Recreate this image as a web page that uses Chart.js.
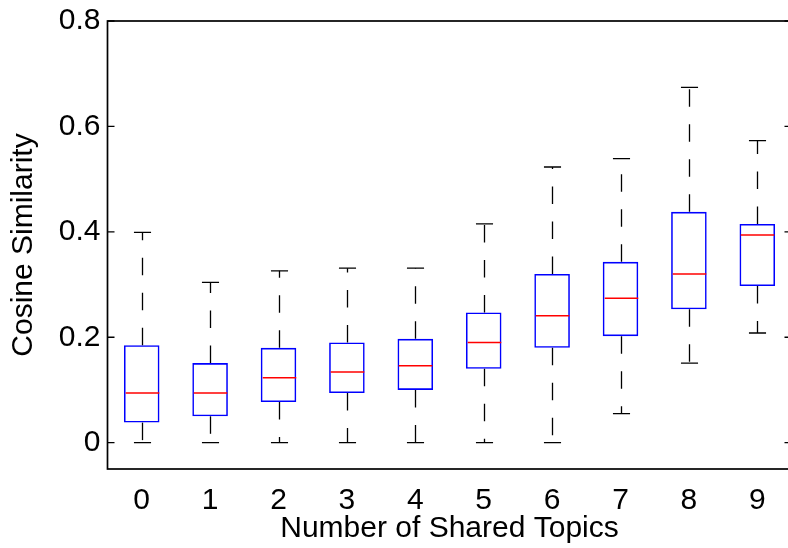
<!DOCTYPE html>
<html>
<head>
<meta charset="utf-8">
<script src="https://cdn.jsdelivr.net/npm/chart.js@4"></script>
<style>
  html, body { margin: 0; padding: 0; overflow: hidden; background: #fff; width: 788px; height: 548px; }
  #wrap { width: 796px; height: 548px; }
</style>
</head>
<body>
<div id="wrap"><canvas id="c" width="796" height="548"></canvas></div>
<script>
// Cosine similarity distribution per number of shared topics
const topics       = ['0', '1', '2', '3', '4', '5', '6', '7', '8', '9'];
const lowerWhisker = [0.000, 0.000, 0.000, 0.000, 0.000, 0.000, 0.000, 0.055, 0.151, 0.208];
const quartile1    = [0.038, 0.050, 0.077, 0.094, 0.100, 0.140, 0.180, 0.202, 0.253, 0.297];
const medians      = [0.094, 0.094, 0.123, 0.134, 0.146, 0.190, 0.241, 0.274, 0.320, 0.394];
const quartile3    = [0.185, 0.151, 0.180, 0.190, 0.197, 0.247, 0.320, 0.343, 0.438, 0.415];
const upperWhisker = [0.399, 0.304, 0.326, 0.331, 0.331, 0.415, 0.523, 0.539, 0.674, 0.573];
const yTicks       = [0, 0.2, 0.4, 0.6, 0.8];
const yTickLabels  = ['0', '0.2', '0.4', '0.6', '0.8'];

const FONT = "'Liberation Sans', Arial, Helvetica, sans-serif";

// Whiskers, caps, medians, the axes box and inward tick marks
const boxDecor = {
  id: 'boxDecor',
  afterDatasetsDraw(chart) {
    const { ctx, chartArea: a, scales: { x, y } } = chart;
    const meta = chart.getDatasetMeta(0);
    const step = (a.right - a.left) / topics.length;
    const capHalf = step * 0.125;
    ctx.save();
    meta.data.forEach((bar, i) => {
      const cx = Math.round(x.getPixelForValue(i)) + 0.5;
      const half = bar.width / 2;
      const yLo = y.getPixelForValue(lowerWhisker[i]);
      const yQ1 = y.getPixelForValue(quartile1[i]);
      const yMed = y.getPixelForValue(medians[i]);
      const yQ3 = y.getPixelForValue(quartile3[i]);
      const yHi = y.getPixelForValue(upperWhisker[i]);

      ctx.strokeStyle = '#000';
      ctx.lineWidth = 1.3;
      ctx.setLineDash([17.5, 17.5]);
      ctx.beginPath(); ctx.moveTo(cx, yQ3); ctx.lineTo(cx, yHi); ctx.stroke();
      ctx.beginPath(); ctx.moveTo(cx, yQ1); ctx.lineTo(cx, yLo); ctx.stroke();
      ctx.setLineDash([]);

      ctx.beginPath();
      ctx.moveTo(cx - capHalf, yHi); ctx.lineTo(cx + capHalf, yHi);
      ctx.moveTo(cx - capHalf, yLo); ctx.lineTo(cx + capHalf, yLo);
      ctx.stroke();

      ctx.strokeStyle = '#ff0000';
      ctx.lineWidth = 1.5;
      ctx.beginPath(); ctx.moveTo(cx - half + 1, yMed); ctx.lineTo(cx + half - 1, yMed); ctx.stroke();
    });

    ctx.strokeStyle = '#000';
    ctx.lineWidth = 1.7;
    ctx.strokeRect(a.left, a.top, a.right - a.left, a.bottom - a.top);
    ctx.lineWidth = 1.3;
    ctx.beginPath();
    yTicks.forEach(v => {
      const py = y.getPixelForValue(v);
      ctx.moveTo(a.left, py); ctx.lineTo(a.left + 7, py);
      ctx.moveTo(a.right - 7, py); ctx.lineTo(a.right, py);
    });
    ctx.stroke();
    ctx.restore();
  }
};

new Chart(document.getElementById('c'), {
  type: 'bar',
  data: {
    labels: topics,
    datasets: [{
      data: quartile1.map((q, i) => [q, quartile3[i]]),
      backgroundColor: 'rgba(0,0,0,0)',
      borderColor: '#0000ff',
      borderWidth: 1.6,
      borderSkipped: false,
      barPercentage: 0.52,
      categoryPercentage: 1
    }]
  },
  options: {
    responsive: false,
    animation: false,
    devicePixelRatio: 1,
    layout: { padding: { left: 0, top: 21, right: 4.5, bottom: 0 } },
    plugins: { legend: { display: false }, tooltip: { enabled: false } },
    scales: {
      x: {
        type: 'category',
        offset: true,
        grid: { display: false, drawTicks: false },
        border: { display: false },
        ticks: { color: '#000', font: { family: FONT, size: 30 }, padding: 14 },
        title: {
          display: true, text: 'Number of Shared Topics', color: '#000',
          font: { family: FONT, size: 30 }, padding: { top: 0, bottom: 1 }
        },
        afterFit: s => { s.height = 79; s.paddingLeft = 0; s.paddingRight = 0; }
      },
      y: {
        min: -0.05,
        max: 0.8,
        grid: { display: false, drawTicks: false },
        border: { display: false },
        afterBuildTicks: s => { s.ticks = yTicks.map(v => ({ value: v })); },
        ticks: {
          color: '#000', font: { family: FONT, size: 30 }, padding: 7,
          callback: v => yTickLabels[yTicks.indexOf(v)]
        },
        title: {
          display: true, text: 'Cosine Similarity', color: '#000',
          font: { family: FONT, size: 30 }, padding: { top: 6, bottom: 6 }
        },
        afterFit: s => { s.width = 107.5; s.paddingTop = 0; s.paddingBottom = 0; }
      }
    }
  },
  plugins: [boxDecor]
});
</script>
</body>
</html>
